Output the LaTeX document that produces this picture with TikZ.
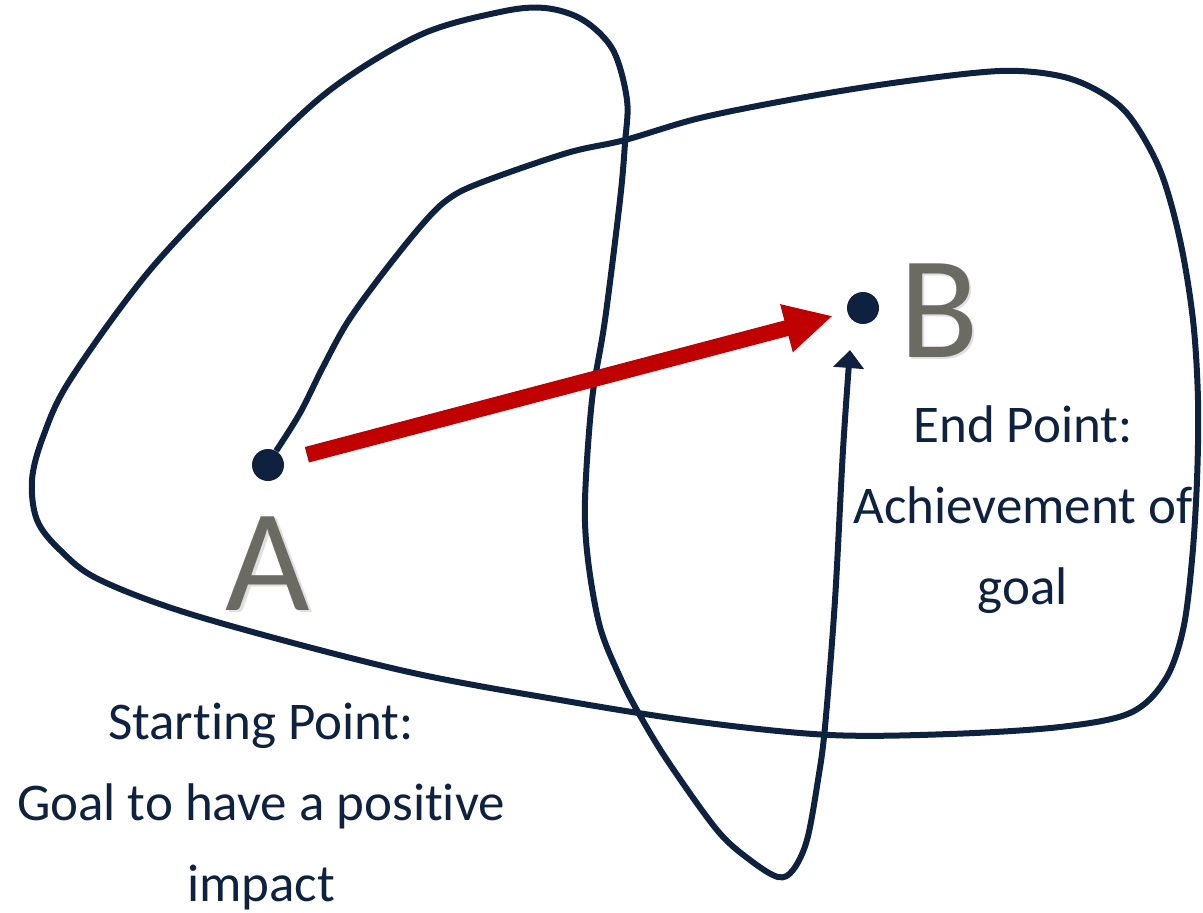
\documentclass[tikz,border=0pt]{standalone}
\usepackage{fontspec}
\setmainfont{Carlito}[Ligatures=NoCommon]
\usetikzlibrary{arrows.meta}
\definecolor{navy}{HTML}{0E2240}
\definecolor{redline}{HTML}{C00000}
\definecolor{lettergray}{HTML}{6B6B64}
\tikzset{
  dot/.style={circle, fill=navy, inner sep=0pt, minimum size=32pt},
  bigletter/.style={text=lettergray, font=\fontsize{146}{146}\selectfont, inner sep=0pt, anchor=base},
  lettershadow/.style={bigletter, text=black!12},
  caption/.style={text=navy, align=center, font=\fontsize{53}{81}\selectfont, inner sep=0pt, anchor=base},
  wander/.style={draw=navy, line width=6pt, -{Triangle[length=18pt,width=30pt]}},
  direct/.style={draw=redline, line width=16pt, -{Triangle[length=48pt,width=46pt]}},
}
\begin{document}
\begin{tikzpicture}[x=1pt,y=-1pt]
\useasboundingbox (0,0) rectangle (1203,913);
\node[dot] (a) at (268,465) {};
\node[dot] (b) at (863,308) {};
\node[lettershadow] at (270.5,612.5) {A};
\node[lettershadow] at (941.5,359.5) {B};
\node[bigletter] (la) at (268,610) {A};
\node[bigletter] (lb) at (939,357) {B};
% base anchor sits on the last line
\node[caption] (start) at (261,901) {Starting Point:\\Goal to have a positive\\impact};
\node[caption] (end) at (1023,604) {End Point:\\Achievement of\\goal};
\coordinate (startA) at (a.60);
\coordinate (endB) at (850,350);
% the long way round
\draw[wander] plot[smooth, tension=0.55] coordinates {
  (startA) (300,413) (323,367) (347,323) (380,277) (420,227) (447,200) (480,183)
  (567,153) (625,140) (700,118) (800,98) (900,82) (1000,71) (1060,76) (1100,92)
  (1130,117) (1160,170) (1180,240) (1193,320) (1198,400) (1197,480) (1192,560)
  (1183,630) (1165,680) (1130,713) (1060,727) (950,734) (830,735) (700,722)
  (560,700) (400,670) (200,617) (100,580) (60,550) (37,520) (32,480) (43,437)
  (70,380) (150,270) (250,165) (330,90) (420,35) (500,12) (545,8) (583,20)
  (613,50) (627,100) (625,143) (620,200) (605,320) (592,400) (585,500) (588,560)
  (600,627) (620,677) (638,712) (667,760) (717,830) (750,860) (778,877) (793,870)
  (807,840) (818,780) (825,727) (835,600) (843,450) (endB)};
% the direct way
\draw[direct, shorten <=24pt, shorten >=15pt] (a) -- (b);
\end{tikzpicture}
\end{document}
